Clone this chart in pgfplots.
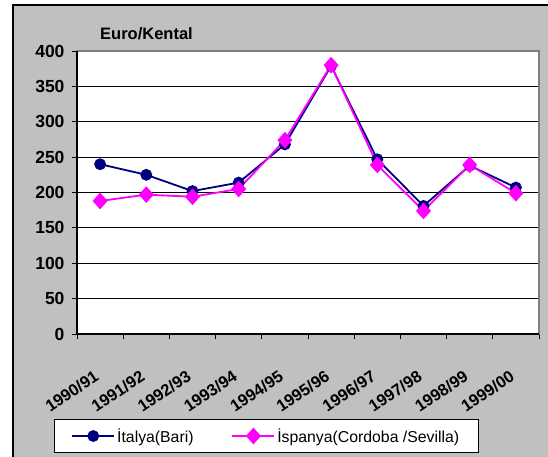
\documentclass[border=0pt]{standalone}
\usepackage{pgfplots}
\pgfplotsset{compat=1.18}
\usepackage{fontspec}
\setmainfont{Liberation Sans}
\definecolor{navyc}{RGB}{0,0,128}
\definecolor{magc}{RGB}{255,0,255}
\definecolor{bggray}{RGB}{192,192,192}
\definecolor{framegray}{RGB}{128,128,128}
\begin{document}
\begin{tikzpicture}
\useasboundingbox (0,0) rectangle (548bp,-457bp);
\clip (0,0) rectangle (548bp,-457bp);
\fill[white] (0,0) rectangle (548bp,-457bp);
\fill[bggray] (13bp,-5bp) rectangle (560bp,-470bp);
\draw[black, line width=1.5bp] (13bp,-470bp) -- (13bp,-5bp) -- (560bp,-5bp);
\node[anchor=base west, font=\bfseries\fontsize{16.5bp}{18bp}\selectfont, inner sep=0] at (100bp,-39bp) {Euro/Kental};
\begin{axis}[
  at={(77bp,-334bp)}, anchor=south west,
  scale only axis, width=462bp, height=283bp,
  xmin=-0.5, xmax=9.5, ymin=0, ymax=400,
  clip=false,
  ytick={0,50,...,400},
  xtick={0,...,9},
  xticklabels={1990/91,1991/92,1992/93,1993/94,1994/95,1995/96,1996/97,1997/98,1998/99,1999/00},
  minor xtick={-0.5,0.5,...,9.5},
  major x tick style={draw=none},
  xtick pos=bottom, ytick pos=left,
  tick align=outside,
  major tick length=5bp, minor tick length=5bp,
  tick style={black, line width=0.8bp},
  ymajorgrids, grid style={black, line width=0.8bp},
  axis background/.style={fill=white},
  axis line style={draw=framegray, line width=2bp},
  /pgf/number format/assume math mode=true,
  yticklabel style={font=\bfseries\fontsize{17.5bp}{19bp}\selectfont, xshift=-4bp},
  xticklabel style={xshift=-7bp, yshift=-30bp, rotate=34, anchor=north east, inner sep=0pt, font=\bfseries\fontsize{16.5bp}{18bp}\selectfont},
  legend columns=2,
  legend style={at={(axis description cs:-0.0498,-0.3004)}, anchor=north west,
    draw=black, line width=0.8bp, fill=white, inner xsep=17bp, inner ysep=7bp,
    font=\fontsize{15.8bp}{17bp}\selectfont,
    /tikz/every even column/.append style={column sep=36bp}},
  legend image code/.code={\draw[mark repeat=2, mark phase=2] plot coordinates {(0bp,0bp) (21bp,0bp) (42bp,0bp)};},
]
\addplot[navyc, line width=1.8bp, mark=*, mark size=5bp, mark options={fill=navyc}] coordinates {
  (0,240) (1,225) (2,202) (3,214) (4,268) (5,379) (6,247) (7,181) (8,238) (9,207)};
\addlegendentry{İtalya(Bari)}
\addplot[magc, line width=1.8bp, mark=diamond*, mark size=7bp, mark options={fill=magc, xscale=1.2}] coordinates {
  (0,188) (1,197) (2,194) (3,205) (4,274) (5,380) (6,239) (7,174) (8,239) (9,199)};
\addlegendentry{İspanya(Cordoba /Sevilla)}
\draw[black, line width=1.2bp] (rel axis cs:0,1) -- (rel axis cs:0,0) -- (rel axis cs:1,0);
\end{axis}
\end{tikzpicture}
\end{document}
